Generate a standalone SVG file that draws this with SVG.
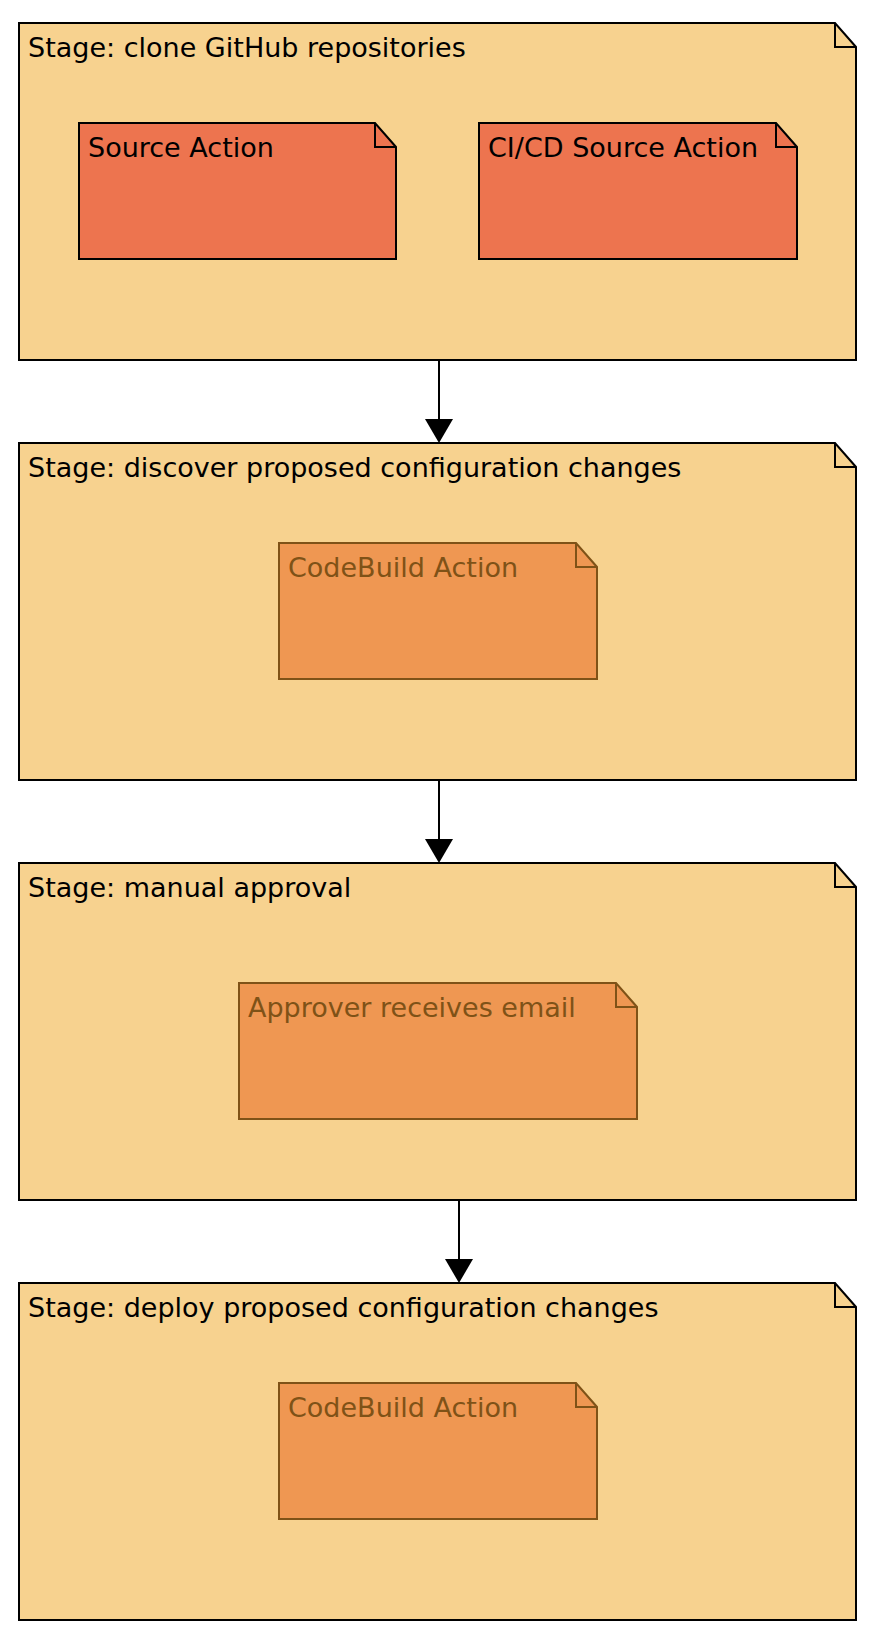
<svg xmlns="http://www.w3.org/2000/svg" width="874" height="1644" viewBox="0 0 874 1644">
<defs>
<style>
.stage{fill:#F7D28F;stroke:#000;stroke-width:2;stroke-linejoin:miter}
.src{fill:#ED744F;stroke:#000;stroke-width:2}
.cb{fill:#EF9752;stroke:#7F5217;stroke-width:2}
.fold{fill:none;stroke-width:2}
.t{font-family:"DejaVu Sans","Liberation Sans",sans-serif;font-size:27px}
.tb{fill:#000}
.tbr{fill:#7F5217}
.conn{stroke:#000;stroke-width:2;fill:none}
</style>
</defs>
<rect width="874" height="1644" fill="#fff"/>

<g id="stage-clone">
<path class="stage" d="M19,23 H835 L856,47 V360 H19 Z"/>
<path class="fold" stroke="#000" d="M835,23 V47 H856"/>
<text class="t tb" x="28" y="57">Stage: clone GitHub repositories</text>
</g>
<g id="source-action">
<path class="src" d="M79,123 H375 L396,147 V259 H79 Z"/>
<path class="fold" stroke="#000" d="M375,123 V147 H396"/>
<text class="t tb" x="88" y="157">Source Action</text>
</g>
<g id="cicd-source-action">
<path class="src" d="M479,123 H776 L797,147 V259 H479 Z"/>
<path class="fold" stroke="#000" d="M776,123 V147 H797"/>
<text class="t tb" x="488" y="157">CI/CD Source Action</text>
</g>

<g id="stage-discover">
<path class="stage" d="M19,443 H835 L856,467 V780 H19 Z"/>
<path class="fold" stroke="#000" d="M835,443 V467 H856"/>
<text class="t tb" x="28" y="477">Stage: discover proposed configuration changes</text>
</g>
<g id="codebuild-discover">
<path class="cb" d="M279,543 H576 L597,567 V679 H279 Z"/>
<path class="fold" stroke="#7F5217" d="M576,543 V567 H597"/>
<text class="t tbr" x="288" y="577">CodeBuild Action</text>
</g>

<g id="stage-approval">
<path class="stage" d="M19,863 H835 L856,887 V1200 H19 Z"/>
<path class="fold" stroke="#000" d="M835,863 V887 H856"/>
<text class="t tb" x="28" y="897">Stage: manual approval</text>
</g>
<g id="approver-email">
<path class="cb" d="M239,983 H616 L637,1007 V1119 H239 Z"/>
<path class="fold" stroke="#7F5217" d="M616,983 V1007 H637"/>
<text class="t tbr" x="248" y="1017">Approver receives email</text>
</g>

<g id="stage-deploy">
<path class="stage" d="M19,1283 H835 L856,1307 V1620 H19 Z"/>
<path class="fold" stroke="#000" d="M835,1283 V1307 H856"/>
<text class="t tb" x="28" y="1317">Stage: deploy proposed configuration changes</text>
</g>
<g id="codebuild-deploy">
<path class="cb" d="M279,1383 H576 L597,1407 V1519 H279 Z"/>
<path class="fold" stroke="#7F5217" d="M576,1383 V1407 H597"/>
<text class="t tbr" x="288" y="1417">CodeBuild Action</text>
</g>

<g id="connectors">
<line class="conn" x1="439" y1="361" x2="439" y2="420"/>
<path d="M425,419 L453,419 L439,443 Z" fill="#000"/>
<line class="conn" x1="439" y1="781" x2="439" y2="840"/>
<path d="M425,839 L453,839 L439,863 Z" fill="#000"/>
<line class="conn" x1="459" y1="1201" x2="459" y2="1260"/>
<path d="M445,1259 L473,1259 L459,1283 Z" fill="#000"/>
</g>
</svg>
